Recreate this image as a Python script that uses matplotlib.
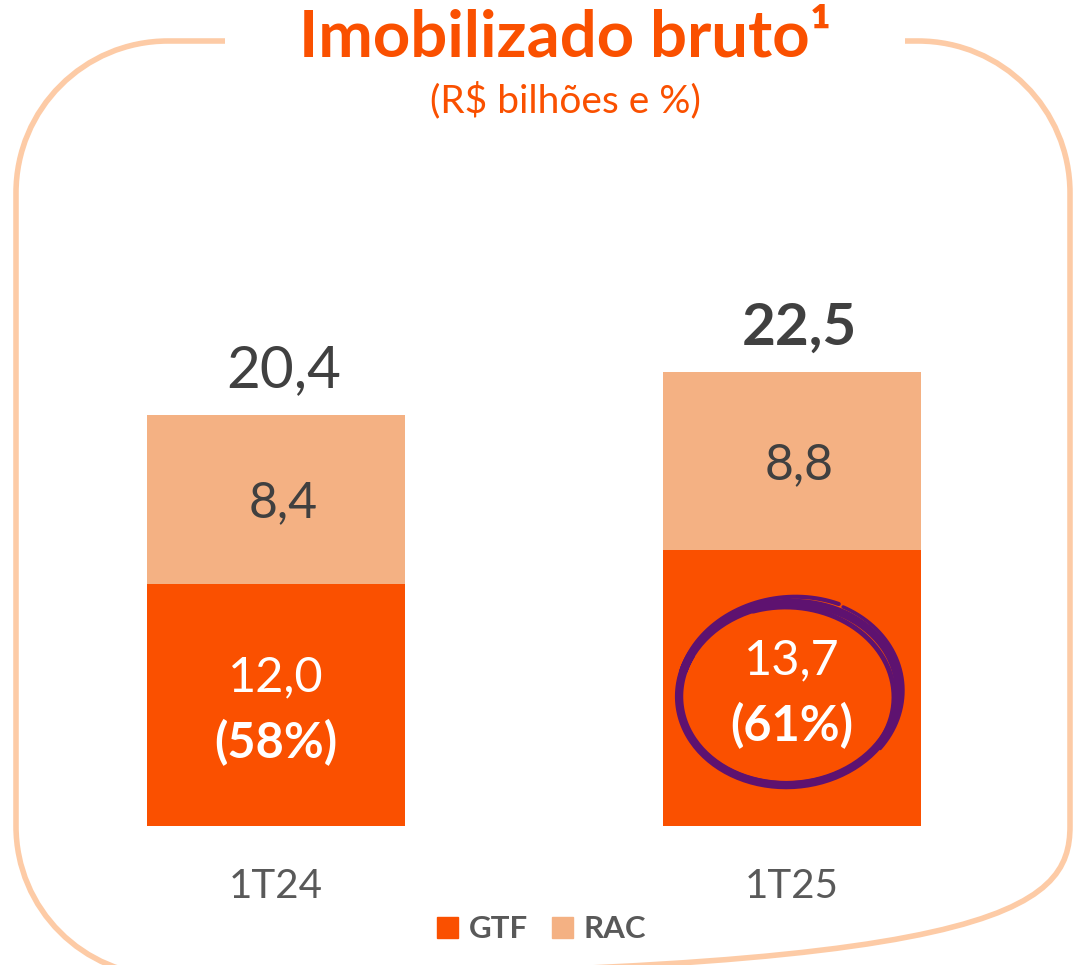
import matplotlib
matplotlib.use("Agg")
import matplotlib.pyplot as plt
from matplotlib.path import Path
from matplotlib.patches import PathPatch, Rectangle
from matplotlib.lines import Line2D
import numpy as np

categories = ["1T24", "1T25"]
gtf = [12.0, 13.7]
rac = [8.4, 8.8]
totals = [20.4, 22.5]
gtf_labels = ["12,0", "13,7"]
gtf_pct = ["(58%)", "(61%)"]
rac_labels = ["8,4", "8,8"]
total_labels = ["20,4", "22,5"]

ORANGE = "#FA5000"
PEACH = "#F4B183"
BORDER = "#FDCBA6"
DARK = "#404040"
GREY = "#595959"
PURPLE = "#5E1270"

plt.rcParams['font.family'] = ['Lato', 'DejaVu Sans']

W, H = 1075, 965
fig = plt.figure(figsize=(W / 100, H / 100), dpi=100)

def fx(x):
    return x / W

def fy(y):
    return 1 - y / H

# axes: x from 18 to 1050, y from 322 (top, 25) to 826 (bottom, 0)
ax = fig.add_axes([fx(18), fy(826), (1050 - 18) / W, (826 - 322) / H])
ax.set_xlim(-0.5, 1.5)
ax.set_ylim(0, 25)
ax.axis("off")

x = np.arange(len(categories))
ax.bar(x, gtf, width=0.5, color=ORANGE, zorder=2)
ax.bar(x, rac, width=0.5, bottom=gtf, color=PEACH, zorder=2)

dx_lbl = 0.014
for i in range(len(categories)):
    ax.text(x[i] + dx_lbl, totals[i] + 2.2, total_labels[i], ha="center", va="center",
            fontsize=42, color=DARK, fontweight="bold" if i == 1 else "normal")
    ax.text(x[i] + dx_lbl, gtf[i] + rac[i] / 2 - 0.2, rac_labels[i], ha="center", va="center",
            fontsize=36, color=DARK)
    ax.text(x[i], gtf[i] / 2 + 1.35, gtf_labels[i], ha="center", va="center",
            fontsize=35, color="white")
    ax.text(x[i], gtf[i] / 2 - 1.85, gtf_pct[i], ha="center", va="center",
            fontsize=35, color="white", fontweight="bold")
    ax.text(x[i], -3.0, categories[i], ha="center", va="center",
            fontsize=29, color=GREY, clip_on=False)

# hand-drawn purple circle around the 1T25 GTF label (figure pixel coords)
strokes = [
    # cx, cy, rx, ry, rot(deg), t1, t2, lw
    (789, 694, 110, 91, -4, 150, 520, 6.0),
    (791, 690, 113, 93, -6, 60, 300, 3.0),
    (787, 696, 107, 89, 2, 260, 470, 3.5),
    (792, 692, 111, 95, -3, 320, 420, 2.5),
]
for cx, cy, rx, ry, rot, t1, t2, lw in strokes:
    t = np.radians(np.linspace(t1, t2, 200))
    r = np.radians(rot)
    ex = rx * np.cos(t)
    ey = -ry * np.sin(t)
    px = cx + ex * np.cos(r) - ey * np.sin(r)
    py = cy + ex * np.sin(r) + ey * np.cos(r)
    fig.add_artist(Line2D(fx(px), fy(py), transform=fig.transFigure, color=PURPLE,
                          lw=lw, solid_capstyle="round", zorder=5))

# rounded border with a gap for the title
k = 0.5523
R = 152
RB = 150
L, Rt, T, B = 16, 1070, 41, 976
verts = [
    (225, T), (L + R, T),
    (L + R - k * R, T), (L, T + R - k * R), (L, T + R),
    (L, B - RB),
    (L, B - RB + k * RB), (L + RB - k * RB, B), (L + RB, B),
    (Rt - RB, B),
    (Rt - RB + k * RB, B), (Rt, B - RB + k * RB), (Rt, B - RB),
    (Rt, T + R),
    (Rt, T + R - k * R), (Rt - R + k * R, T), (Rt - R, T),
    (905, T),
]
codes = [Path.MOVETO, Path.LINETO,
         Path.CURVE4, Path.CURVE4, Path.CURVE4,
         Path.LINETO,
         Path.CURVE4, Path.CURVE4, Path.CURVE4,
         Path.LINETO,
         Path.CURVE4, Path.CURVE4, Path.CURVE4,
         Path.LINETO,
         Path.CURVE4, Path.CURVE4, Path.CURVE4,
         Path.LINETO]
path = Path([(fx(a), fy(b)) for a, b in verts], codes)
fig.add_artist(PathPatch(path, transform=fig.transFigure, fill=False,
                         edgecolor=BORDER, lw=4.0, capstyle="butt"))

# titles
fig.text(fx(565), fy(38), "Imobilizado bruto\u00b9", ha="center", va="center",
         fontsize=47, fontweight="bold", color=ORANGE)
fig.text(fx(565), fy(100), "(R$ bilhões e %)", ha="center", va="center",
         fontsize=28, color=ORANGE)

# legend
fig.add_artist(Rectangle((fx(437), fy(938)), 21 / W, 21 / H, transform=fig.transFigure,
                         color=ORANGE))
fig.text(fx(469), fy(929), "GTF", ha="left", va="center", fontsize=22.5,
         fontweight="bold", color=GREY)
fig.add_artist(Rectangle((fx(552), fy(938)), 21 / W, 21 / H, transform=fig.transFigure,
                         color=PEACH))
fig.text(fx(583), fy(929), "RAC", ha="left", va="center", fontsize=22.5,
         fontweight="bold", color=GREY)

fig.savefig("out.png", dpi=100, facecolor="white")
